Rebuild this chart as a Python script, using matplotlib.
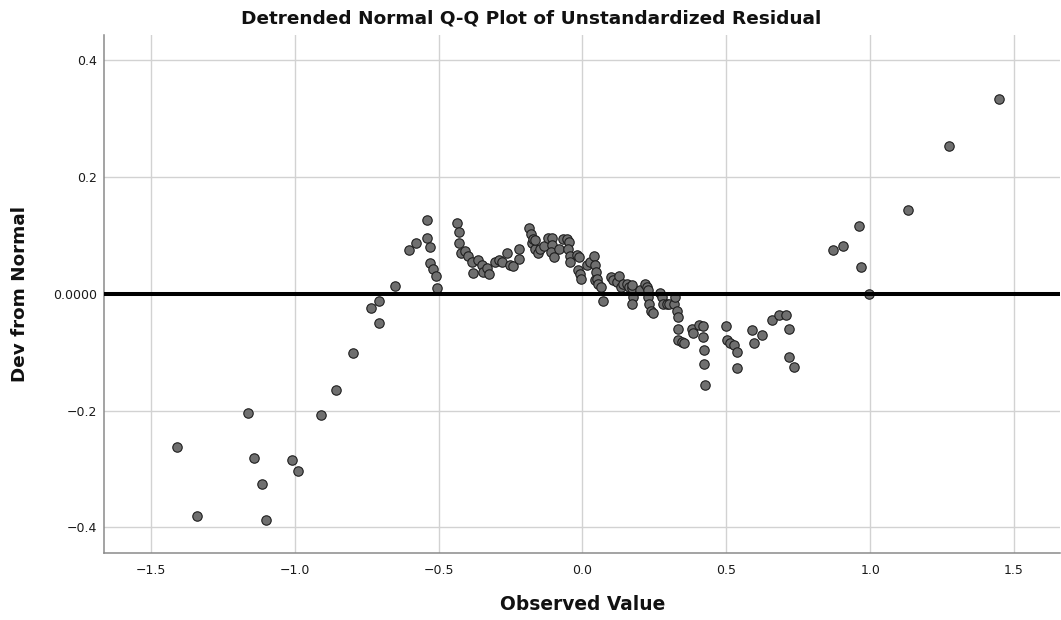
import matplotlib
matplotlib.use("Agg")
import matplotlib.pyplot as plt

plt.rcParams['font.family'] = ['DejaVu Sans']

observed = [
    -1.409, -1.338, -1.162, -1.141, -1.113, -1.101, -1.011, -0.988, -0.908, -0.858,
    -0.799, -0.736, -0.706, -0.706, -0.653, -0.603, -0.578, -0.539, -0.539, -0.530,
    -0.530, -0.519, -0.509, -0.507,
    -0.435, -0.429, -0.428, -0.423, -0.408, -0.397, -0.385, -0.380, -0.362, -0.350,
    -0.347, -0.330, -0.324, -0.304, -0.290, -0.281, -0.261, -0.252, -0.243, -0.221,
    -0.221,
    -0.185, -0.179, -0.177, -0.173, -0.165, -0.165, -0.156, -0.148, -0.133, -0.119,
    -0.105, -0.105, -0.109, -0.098, -0.082, -0.067, -0.055, -0.047, -0.049, -0.043,
    -0.043, -0.020, -0.013, -0.015, -0.009, -0.005,
    0.015, 0.026, 0.041, 0.043, 0.046, 0.043, 0.049, 0.055, 0.064, 0.070,
    0.098, 0.107, 0.121, 0.128, 0.133, 0.142, 0.154, 0.163, 0.171, 0.174,
    0.177, 0.174, 0.200,
    0.217, 0.223, 0.227, 0.229, 0.232, 0.237, 0.244, 0.269, 0.275, 0.281,
    0.293, 0.302, 0.318, 0.321, 0.327, 0.333, 0.333, 0.333, 0.345, 0.353,
    0.380, 0.386, 0.405, 0.418, 0.420, 0.421, 0.422, 0.426, 0.499, 0.501,
    0.513, 0.528, 0.538, 0.539, 0.590, 0.598, 0.625, 0.658, 0.683, 0.707,
    0.718, 0.718, 0.736,
    0.870, 0.907, 0.962, 0.969, 0.996, 1.131, 1.274, 1.449,
]
deviation = [
    -0.263, -0.380, -0.204, -0.281, -0.326, -0.388, -0.284, -0.304, -0.207, -0.165,
    -0.101, -0.025, -0.012, -0.051, 0.014, 0.074, 0.087, 0.126, 0.096, 0.080,
    0.053, 0.043, 0.031, 0.010,
    0.121, 0.105, 0.087, 0.069, 0.073, 0.065, 0.055, 0.035, 0.057, 0.050,
    0.038, 0.044, 0.034, 0.055, 0.058, 0.055, 0.069, 0.050, 0.048, 0.076,
    0.060,
    0.113, 0.103, 0.086, 0.093, 0.077, 0.092, 0.069, 0.077, 0.082, 0.095,
    0.096, 0.084, 0.071, 0.063, 0.076, 0.094, 0.093, 0.089, 0.077, 0.065,
    0.054, 0.067, 0.063, 0.040, 0.033, 0.026,
    0.050, 0.054, 0.065, 0.049, 0.037, 0.023, 0.026, 0.017, 0.012, -0.013,
    0.028, 0.023, 0.020, 0.030, 0.012, 0.017, 0.017, 0.012, 0.009, 0.015,
    -0.005, -0.017, 0.007,
    0.017, 0.012, 0.006, -0.005, -0.017, -0.029, -0.033, 0.002, -0.006, -0.018,
    -0.017, -0.017, -0.018, -0.005, -0.029, -0.040, -0.061, -0.079, -0.083, -0.085,
    -0.060, -0.067, -0.054, -0.056, -0.074, -0.096, -0.121, -0.156, -0.056, -0.080,
    -0.084, -0.087, -0.100, -0.128, -0.062, -0.085, -0.071, -0.045, -0.037, -0.036,
    -0.060, -0.109, -0.126,
    0.074, 0.081, 0.116, 0.046, 0.000, 0.143, 0.253, 0.334,
]

x_ticks = [-1.5, -1.0, -0.5, 0.0, 0.5, 1.0, 1.5]
x_tick_labels = ["\u22121.5", "\u22121.0", "\u22120.5", "0.0", "0.5", "1.0", "1.5"]
y_ticks = [-0.4, -0.2, 0.0, 0.2, 0.4]
y_tick_labels = ["\u22120.4", "\u22120.2", "0.0000", "0.2", "0.4"]

fig = plt.figure(figsize=(10.61, 6.20), dpi=100)
ax = fig.add_axes([104 / 1061, 1 - 553 / 620, (1060 - 104) / 1061, (553 - 35) / 620])

ax.scatter(observed, deviation, s=46, facecolor="#6f6f6f", edgecolor="#1e1e1e",
           linewidths=0.8, zorder=3)
ax.axhline(0.0, color="black", linewidth=2.9, zorder=4)

ax.set_xlim(-1.663, 1.660)
ax.set_ylim(-0.444, 0.443)
ax.set_xticks(x_ticks)
ax.set_xticklabels(x_tick_labels)
ax.set_yticks(y_ticks)
ax.set_yticklabels(y_tick_labels)
ax.tick_params(axis="both", length=0, labelsize=9, colors="#1a1a1a")
ax.tick_params(axis="x", pad=8)
ax.tick_params(axis="y", pad=5)

ax.grid(True, color="#d2d2d2", linewidth=1.0, zorder=0)
ax.set_axisbelow(True)

for side in ("top", "right"):
    ax.spines[side].set_visible(False)
for side in ("left", "bottom"):
    ax.spines[side].set_color("#8a8a8a")
    ax.spines[side].set_linewidth(1.1)

fig.text(0.5 * (240 + 822) / 1061, 1 - 18 / 620,
         "Detrended Normal Q-Q Plot of Unstandardized Residual",
         ha="center", va="center", fontsize=13.3, fontweight="bold", color="#111111")
fig.text(583 / 1061, 1 - 605 / 620, "Observed Value", ha="center", va="center",
         fontsize=13.4, fontweight="bold", color="#111111")
fig.text(20 / 1061, 1 - 294 / 620, "Dev from Normal", ha="center", va="center",
         rotation=90, fontsize=13.2, fontweight="bold", color="#111111")

fig.savefig("out.png", dpi=100)
